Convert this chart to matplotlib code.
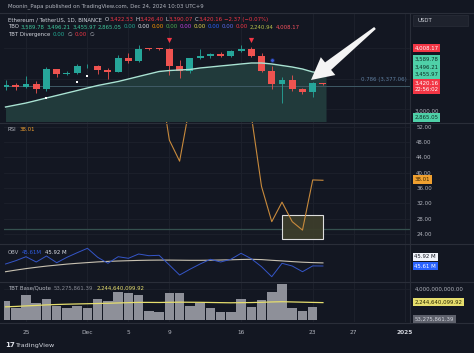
import matplotlib
matplotlib.use("Agg")
import matplotlib.pyplot as plt
from matplotlib.patches import Rectangle, Polygon
from matplotlib.lines import Line2D
import numpy as np
import pandas as pd

plt.rcParams['font.family'] = ['DejaVu Sans']

# ---------------- data ----------------
dates = pd.date_range('2024-11-23', '2024-12-24', freq='D')
opens = [3357, 3392, 3361, 3414, 3325, 3655, 3580, 3592, 3705, 3708, 3645, 3615, 3837, 3785, 4000, 3998,
         3995, 3711, 3627, 3835, 3880, 3906, 3870, 3958, 3985, 3875, 3625, 3418, 3470, 3326, 3280, 3422.53]
highs = [3470, 3430, 3540, 3465, 3685, 3660, 3630, 3735, 3740, 3722, 3670, 3888, 3923, 4050, 4010, 4010,
         4010, 3800, 3845, 3995, 3930, 3945, 3975, 4050, 4025, 3915, 3715, 3530, 3555, 3345, 3440, 3426.40]
lows = [3310, 3310, 3340, 3260, 3300, 3520, 3555, 3580, 3670, 3570, 3500, 3605, 3760, 3780, 3968, 3970,
        3560, 3510, 3600, 3830, 3835, 3850, 3860, 3935, 3860, 3615, 3330, 3100, 3300, 3250, 3200, 3390.07]
closes = [3392, 3361, 3414, 3325, 3655, 3580, 3592, 3705, 3708, 3645, 3615, 3837, 3785, 3990, 3990, 3992,
          3711, 3627, 3835, 3880, 3906, 3870, 3958, 3985, 3875, 3625, 3418, 3470, 3326, 3280, 3422, 3420.16]
tbo_line = [3032, 3065, 3098, 3139, 3181, 3222, 3263, 3304, 3346, 3387, 3420, 3453, 3494, 3536, 3577, 3618,
            3634, 3643, 3651, 3676, 3692, 3709, 3725, 3742, 3758, 3758, 3742, 3717, 3692, 3659, 3610, 3589.78]
fib_level = 3377.06
sell_dates = ['2024-12-09', '2024-12-17']
sell_levels = [4140, 4140]
buy_dates = ['2024-11-27', '2024-11-30', '2024-12-01']
buy_levels = [3181, 3445, 3544]
dot_dates = ['2024-12-19']
dot_levels = [3808]

rsi = [58, 56, 58, 55, 66, 63, 63, 67, 67, 64, 63, 69, 67, 72, 72, 65.7,
       48.5, 43.0, 57.6, 59, 60, 58, 62, 62, 55, 36.4, 27.2, 32.3, 27.2, 25.0, 38.1, 38.01]
rsi_level = 25.2
box_dates = ['2024-12-20', '2024-12-24']
box_range = [22.7, 28.9]

obv = [45.81, 46.14, 46.54, 46.01, 46.61, 45.94, 46.48, 46.94, 47.38, 46.48, 45.88, 46.54, 46.38, 46.81,
       46.64, 46.68, 45.71, 44.71, 45.28, 45.81, 46.28, 46.01, 46.28, 46.88, 46.34, 45.54, 44.54, 45.88,
       45.61, 45.04, 45.62, 45.61]
obv_ma = [45.04, 45.20, 45.35, 45.48, 45.60, 45.70, 45.80, 45.88, 45.95, 46.02, 46.07, 46.11, 46.14, 46.17,
          46.19, 46.20, 46.20, 46.19, 46.18, 46.18, 46.19, 46.21, 46.23, 46.26, 46.28, 46.25, 46.18, 46.12,
          46.05, 45.99, 45.95, 45.92]

quote_vol = [2.45, 1.59, 3.23, 2.24, 2.71, 1.85, 1.51, 1.85, 1.59, 2.67, 2.45, 3.66, 3.53, 3.23, 1.20, 0.99,
             3.44, 3.44, 1.81, 2.15, 1.51, 1.08, 1.08, 2.67, 1.72, 2.58, 3.66, 4.60, 1.59, 1.20, 1.63, 0.0533]  # billions
quote_ma = [1.70, 1.75, 1.82, 1.88, 1.95, 2.00, 2.04, 2.07, 2.10, 2.13, 2.16, 2.20, 2.24, 2.27, 2.27, 2.26,
            2.28, 2.30, 2.29, 2.28, 2.26, 2.24, 2.22, 2.24, 2.25, 2.28, 2.33, 2.36, 2.33, 2.30, 2.27, 2.2446]

tick_dates = ['2024-11-25', '2024-12-01', '2024-12-05', '2024-12-09', '2024-12-16', '2024-12-23',
              '2024-12-27', '2025-01-01']
tick_labels = ['25', 'Dec', '5', '9', '16', '23', '27', '2025']
rsi_ticks = [24, 28, 32, 36, 40, 44, 48, 52]

# ---------------- style ----------------
W, H = 474, 353
BG = '#131722'
GRID = '#1d212c'
SEP = '#2a2e39'
TXT = '#b2b5be'
UP = '#26a69a'
DOWN = '#ef5350'
FS = 3.9

fig = plt.figure(figsize=(W / 100, H / 100), dpi=100, facecolor=BG)

origin = pd.Timestamp('2024-11-25')
def to_days(ds):
    return np.array((pd.to_datetime(ds) - origin).days, dtype=float)

xd = to_days(dates)
xt = to_days(tick_dates)

def day_from_px(px):
    return (px - 26.0) / 10.24

PX0, PX1 = 4, 410
XLIM = (day_from_px(PX0), day_from_px(PX1))

def px_axes(y0, y1):
    ax = fig.add_axes([PX0 / W, 1 - y1 / H, (PX1 - PX0) / W, (y1 - y0) / H])
    ax.set_facecolor(BG)
    for s in ax.spines.values():
        s.set_visible(False)
    ax.set_xticks([])
    ax.set_yticks([])
    ax.set_xlim(*XLIM)
    for t in xt:
        ax.axvline(t, color=GRID, lw=0.7, zorder=0)
    return ax

# ---------------- main pane ----------------
axm = px_axes(13, 122)
axm.set_ylim(2784.75, 4583)
for lvl in [3000, 3500, 4000]:
    axm.axhline(lvl, color=GRID, lw=0.6, zorder=0)
axm.fill_between(np.append(xd, xd[-1] + 0.3), np.append(tbo_line, tbo_line[-1]), 2700,
                 color='#213a3b', zorder=1, lw=0)
axm.plot(xd, tbo_line, color='#a9e3d3', lw=1.0, zorder=5)
axm.axhline(fib_level, color='#3f5a66', lw=0.7, zorder=2)
for x, o, h, l, c in zip(xd, opens, highs, lows, closes):
    col = UP if c >= o else DOWN
    axm.vlines(x, l, h, color=col, lw=0.6, zorder=3)
    body = max(abs(c - o), 8)
    axm.bar(x, body, bottom=(o + c) / 2 - body / 2, width=0.68, color=col, zorder=4, lw=0)
axm.scatter(to_days(sell_dates), sell_levels, marker='v', s=14, color='#f23645', zorder=6, lw=0)
axm.scatter(to_days(buy_dates), buy_levels, marker='s', s=3.5, color='white', zorder=6, lw=0)
axm.scatter(to_days(dot_dates), dot_levels, marker='o', s=7, color='#3b5bdb', edgecolors='#1a2a66',
            linewidths=0.5, zorder=6)
axm.text(day_from_px(407), fib_level + 60, '0.786 (3,377.06)', color='#5f7fa0', fontsize=FS,
         ha='right', va='bottom')

# ---------------- RSI pane ----------------
axr = px_axes(122, 244)
axr.set_ylim(21.37, 53.23)
for v in rsi_ticks:
    axr.axhline(v, color=GRID, lw=0.6, zorder=0)
axr.axhline(rsi_level, color='#35514f', lw=0.9, zorder=1)
bx = to_days(box_dates)
axr.add_patch(Rectangle((bx[0], box_range[0]), bx[1] - bx[0], box_range[1] - box_range[0],
                        fc='#3c3d2b', ec='#e8e8e8', lw=0.8, alpha=0.95, zorder=2))
axr.plot(xd, rsi, color='#c88a3c', lw=0.8, zorder=3)
axr.yaxis.tick_right()
axr.set_yticks(rsi_ticks)
axr.set_yticklabels([f'{v:.2f}' for v in rsi_ticks])
axr.tick_params(axis='y', length=0, pad=4.5, labelsize=FS, labelcolor=TXT)

# ---------------- OBV pane ----------------
axo = px_axes(244, 282)
axo.set_ylim(44.01, 47.81)
axo.plot(xd, obv_ma, color='#c9c2b2', lw=0.8, zorder=3)
axo.plot(xd, obv, color='#3556c9', lw=0.7, zorder=4)

# ---------------- TBT pane ----------------
axt = px_axes(282, 322)
axt.set_ylim(-0.258, 4.903)
axt.axhline(4.0, color=GRID, lw=0.6, zorder=0)
axt.bar(xd, quote_vol, width=0.93, color='#8e9099', lw=0, zorder=2)
axt.plot(xd, quote_ma, color='#e6de6e', lw=0.9, zorder=3)
axt.set_xticks(xt)
axt.set_xticklabels(tick_labels)
axt.tick_params(axis='x', length=0, pad=6, labelsize=4.2, labelcolor=TXT)
lbl = axt.get_xticklabels()[-1]
lbl.set_fontweight('bold')
lbl.set_color('#d1d4dc')

# ---------------- separators ----------------
def hline_fig(y, x0=0, x1=W, color=SEP, lw=0.8):
    fig.add_artist(Line2D([x0 / W, x1 / W], [1 - y / H, 1 - y / H], transform=fig.transFigure,
                          color=color, lw=lw))
for y in (13, 122.5, 244, 282, 322.5):
    hline_fig(y)
fig.add_artist(Line2D([PX1 / W, PX1 / W], [1 - 322.5 / H, 1 - 13 / H], transform=fig.transFigure,
                      color=SEP, lw=0.8))

# ---------------- texts ----------------
renderer = fig.canvas.get_renderer()

def seq_text(x, y, segs, fs=FS):
    for s, c, gap in segs:
        t = fig.text(x / W, 1 - y / H, s, color=c, fontsize=fs, va='center', ha='left')
        bb = t.get_window_extent(renderer=renderer)
        x += bb.width + gap

fig.text(8 / W, 1 - 6.5 / H, 'Moonin_Papa published on TradingView.com, Dec 24, 2024 10:03 UTC+9',
         color=TXT, fontsize=FS, va='center', ha='left')

RED = '#f23645'
LG = '#d1d4dc'
seq_text(8, 19.5, [('Ethereum / TetherUS, 1D, BINANCE', LG, 3.0),
                   ('O', LG, 0), ('3,422.53', RED, 2.0), ('H', LG, 0), ('3,426.40', RED, 2.0),
                   ('L', LG, 0), ('3,390.07', RED, 2.0), ('C', LG, 0), ('3,420.16', RED, 2.0),
                   ('−2.37 (−0.07%)', RED, 0)])
G1 = '#3fc69c'
GAP = 1.8
seq_text(8, 27, [('TBO', LG, GAP), ('3,589.78', G1, GAP), ('3,496.21', G1, GAP), ('3,455.97', G1, GAP),
                 ('2,865.05', G1, GAP), ('0.00', '#22ab94', GAP), ('0.00', '#e0e3eb', GAP),
                 ('0.00', '#ff9800', GAP), ('0.00', '#4caf50', GAP), ('0.00', '#c040e0', GAP),
                 ('0.00', '#e6d84a', GAP), ('0.00', '#2962ff', GAP), ('0.00', '#5b6cf0', GAP),
                 ('0.00', RED, GAP), ('2,240.94', '#b8c04a', GAP), ('4,008.17', '#f7525f', 0)])
seq_text(8, 34.5, [('TBT Divergence', LG, 2.5), ('0.00', '#22ab94', 2.5), ('∅', TXT, 2.5),
                   ('0.00', RED, 2.5), ('∅', TXT, 0)])
seq_text(8, 129.5, [('RSI', TXT, 3), ('38.01', '#f0a030', 0)])
seq_text(8, 252.5, [('OBV', TXT, 3), ('45.61M', '#2f5ce0', 3), ('45.92 M', '#e0e3eb', 0)])
seq_text(8, 288, [('TBT Base/Quote', TXT, 3), ('53,275,861.39', '#868993', 3),
                  ('2,244,640,099.92', '#e6de6e', 0)])

def rlabel(y, text, bg=None, fg=TXT, x=414.5, fs=FS):
    kw = {}
    if bg:
        kw['bbox'] = dict(boxstyle='square,pad=0.3', fc=bg, ec='none')
    fig.text(x / W, 1 - y / H, text, color=fg, fontsize=fs, va='center', ha='left', **kw)

fig.add_artist(Rectangle((413 / W, 1 - 25.5 / H), 55 / W, 11 / H, transform=fig.transFigure,
                         fc='#1e222d', ec='#2a2e39', lw=0.5))
fig.text(417 / W, 1 - 20 / H, 'USDT', color=LG, fontsize=FS, va='center', ha='left')
TEAL = '#4fd0a8'
rlabel(48, '4,008.17', bg='#f23645', fg='white')
rlabel(59.5, '3,589.78', bg=TEAL, fg='#0c2e25')
rlabel(67, '3,496.21', bg=TEAL, fg='#0c2e25')
rlabel(74.5, '3,455.97', bg=TEAL, fg='#0c2e25')
rlabel(83, '3,420.16', bg='#f23645', fg='white')
rlabel(89.5, '22:56:02', bg='#f23645', fg='white')
rlabel(111.5, '3,000.00')
rlabel(117.5, '2,865.05', bg=TEAL, fg='#0c2e25')
rlabel(179.5, '38.01', bg='#f0a030', fg='#3a2600')
rlabel(257, '45.92 M', bg='#f0f3fa', fg='#131722')
rlabel(266, '45.61 M', bg='#2962ff', fg='white')
rlabel(289, '4,000,000,000.00')
rlabel(302, '2,244,640,099.92', bg='#e6de6e', fg='#2a2700')
rlabel(319, '53,275,861.39', bg='#5d606b', fg='#d1d4dc')

fig.text(5 / W, 1 - 345 / H, '17', color='#e0e3eb', fontsize=5, fontweight='bold', va='center', ha='left')
fig.text(15 / W, 1 - 345 / H, 'TradingView', color='#d1d4dc', fontsize=4.6, va='center', ha='left')

# ---------------- arrow annotation ----------------
tail = np.array([375.0, 28.0])
tip = np.array([311.0, 80.0])
u = (tip - tail) / np.linalg.norm(tip - tail)
n = np.array([-u[1], u[0]])
base = tip - u * 22
pts = [tail + n * 1.3, base + n * 4.8, base + n * 11.5, tip, base - n * 11.5, base - n * 4.8, tail - n * 1.3]
pts = [(p[0] / W, 1 - p[1] / H) for p in pts]
fig.add_artist(Polygon(pts, closed=True, transform=fig.transFigure, fc='#f4f4f4', ec='none', zorder=20))

fig.savefig('out.png', dpi=100, facecolor=BG)
